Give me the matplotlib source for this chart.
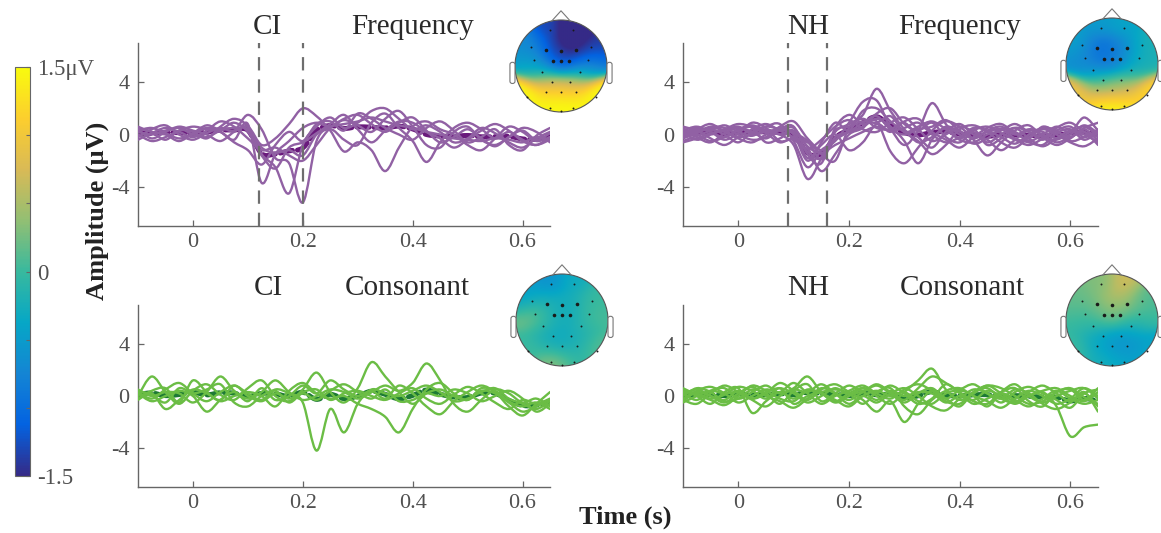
import numpy as np
import matplotlib
matplotlib.use('Agg')
import matplotlib.pyplot as plt
from matplotlib.colors import LinearSegmentedColormap, Normalize
from matplotlib.cm import ScalarMappable
from matplotlib.patches import Circle, FancyBboxPatch, PathPatch
from matplotlib.path import Path

plt.rcParams['font.family'] = ['Liberation Serif', 'DejaVu Serif']

# ---- data -------------------------------------------------------------
t = np.round(np.arange(-0.1, 0.651, 0.025), 3)   # 31 samples

ci_freq = [
    [0.3, 0.5, 0.1, -0.3, 0.0, 0.5, 0.2, -0.4, 0.8, -3.7, -1.5, -0.5, 0.5, 0.9, 0.6, 1.2, 1.5, 0.8, 0.2, 0.9, 1.3, 0.3, -0.6, -0.2, 0.4, -0.3, -0.9, -0.2, 0.3, -0.4, 0.1],
    [0.5, 0.2, -0.4, 0.3, 0.2, -0.3, 0.6, 1.2, 0.6, -1.5, -2.5, -4.5, -0.8, 0.6, 1.3, 0.5, 0.9, 1.8, 2.0, 1.2, 0.4, 0.7, 0.2, -0.6, -0.3, 0.5, 0.1, -0.6, -1.0, -0.3, 0.2],
    [-0.2, 0.4, 0.7, 0.0, -0.4, 0.1, 0.5, 0.3, 1.5, 0.4, -1.8, -2.2, -5.2, -0.5, 0.4, -0.4, -0.8, 0.9, 1.6, 0.5, -0.5, -2.1, -0.6, 0.5, 0.9, 0.4, -0.3, 0.2, -0.4, -0.8, -0.2],
    [0.4, -0.3, 0.2, 0.6, 0.3, 0.0, -0.5, 0.2, 0.6, -0.8, -0.3, 0.8, 2.0, 1.4, 0.3, -1.3, -0.6, -1.2, -2.8, -1.0, 0.6, 1.0, 0.4, 0.0, -0.8, -1.2, -0.3, 0.6, 0.2, -0.5, -0.2],
    [0.0, -0.5, -0.2, 0.3, 0.6, 0.4, 0.2, -0.6, -1.2, -2.3, -0.8, 0.2, -0.5, 0.8, 1.0, 0.3, 1.6, 1.2, 0.5, 0.0, -0.4, 0.5, 1.0, 0.3, -0.6, -0.2, 0.4, -0.8, -1.2, -0.1, 0.5],
    [-0.4, 0.1, 0.5, 0.2, -0.2, 0.3, 1.0, 0.6, -0.3, -1.2, -1.0, -1.6, -2.0, -0.8, 0.5, 1.1, 0.7, 0.2, 1.2, 1.8, 0.6, -0.8, -1.0, 0.2, 0.6, -0.4, -0.8, -0.2, 0.5, 0.2, -0.6],
    [0.6, 0.2, 0.0, -0.5, 0.1, 0.7, 0.4, 0.9, 0.2, -1.6, -2.6, -1.0, -0.6, 0.1, 0.8, 1.5, 0.4, -0.6, 0.3, 1.0, 0.9, 0.2, -0.3, -1.0, -0.4, 0.3, 0.8, 0.3, -0.5, -0.8, -0.4],
    [0.2, 0.0, 0.3, 0.5, 0.0, -0.2, 0.3, 0.5, 0.4, -1.0, -1.4, -1.2, -1.6, 0.0, 0.6, 0.8, 1.0, 1.3, 1.0, 0.7, 0.5, 0.2, 0.0, -0.3, -0.4, -0.5, -0.3, -0.4, -0.6, -0.2, -0.5],
]

nh_freq = [
    [0.3, 0.6, 0.2, -0.2, 0.4, 0.7, 0.3, 0.0, -0.8, -3.4, -1.8, 0.2, 0.8, 1.5, 3.5, 1.8, 0.4, -0.6, -0.2, 0.5, 0.0, -0.7, -0.3, 0.4, 0.2, -0.5, 0.0, 0.6, 0.2, 1.3, 0.3],
    [-0.3, 0.1, 0.5, 0.3, -0.2, 0.1, 0.6, 0.8, -0.5, -2.5, -1.2, -0.5, 0.9, 2.5, 2.6, 0.5, -0.8, 0.3, 2.4, 0.8, -0.3, 0.4, -0.8, -0.3, 0.5, 0.2, -0.4, 0.3, 0.6, -0.2, 0.4],
    [0.5, -0.2, -0.6, 0.1, 0.5, 0.2, -0.3, 0.4, 0.6, -1.5, -2.2, 0.5, 1.5, 0.8, 1.0, -1.3, -2.2, -1.0, 0.3, 1.0, 0.6, -0.4, -1.6, -0.6, 0.3, 0.7, -0.2, -0.8, -0.3, 0.4, -0.5],
    [0.0, 0.4, 0.8, 0.2, -0.3, -0.6, 0.0, 0.5, 0.0, -2.0, -0.6, 0.9, 0.3, 1.8, 2.0, 1.0, 0.2, -0.5, -1.5, -0.8, 0.4, 0.7, 0.2, -0.6, -1.0, -0.2, 0.4, 0.0, -0.6, -0.9, -0.3],
    [-0.5, -0.1, 0.3, 0.7, 0.2, -0.1, 0.4, 0.0, 0.3, -1.0, -2.8, -1.5, 0.0, 0.5, 1.6, 2.0, 0.8, 0.3, 0.9, -0.2, -0.6, 0.3, 0.6, 0.1, -0.4, -0.8, -0.3, 0.5, 0.9, 0.2, -0.2],
    [0.2, -0.4, 0.0, 0.4, 0.8, 0.5, -0.6, -0.3, 0.2, -1.8, -0.8, 0.0, -1.2, -0.6, 0.8, 0.2, 1.0, 1.2, 0.2, -0.4, -1.0, -0.2, 0.5, 0.8, 0.1, -0.3, 0.6, 0.2, -0.2, 0.5, 0.9],
    [0.6, 0.3, -0.3, -0.8, -0.2, 0.4, 0.8, 0.3, -0.2, -0.6, -1.5, -2.0, 0.5, 1.2, 0.5, 0.4, 0.9, -0.2, -1.0, 0.2, 0.8, 0.0, -0.4, -1.2, -0.4, 0.3, 0.0, -0.6, -0.2, 0.2, -0.8],
    [-0.2, 0.2, 0.6, 0.5, 0.0, -0.4, -0.2, 0.6, 1.0, -0.3, -1.2, -0.4, 0.2, 0.6, 1.2, 0.6, -0.5, -2.2, -0.4, 0.6, 0.2, -0.3, 0.2, 0.4, -0.3, -0.6, -0.8, 0.1, 0.4, -0.4, 0.2],
    [0.1, 0.5, 0.2, -0.4, 0.1, 0.9, 0.5, -0.5, -0.4, -1.3, -1.8, 0.3, 0.6, 1.0, 0.9, 1.4, 0.2, 0.6, 1.0, 0.4, -0.4, -0.6, 0.0, 0.3, 0.8, 0.2, -0.2, -0.4, 0.2, 0.6, -0.1],
    [-0.6, -0.3, 0.1, 0.3, 0.6, 0.0, 0.2, 0.3, 0.5, -0.9, -1.4, -0.8, -0.3, 0.2, 0.6, 0.3, 0.5, 0.9, 0.0, -0.6, -0.2, 0.5, 0.3, -0.2, -0.7, 0.0, 0.5, 0.3, -0.5, -0.2, 0.3],
    [0.4, 0.0, -0.5, -0.2, 0.3, 0.6, 0.1, -0.6, -0.3, -1.1, -0.4, 0.6, 1.1, 0.4, 0.2, 0.9, 1.3, 0.4, -0.5, 0.0, 0.6, 0.2, -0.6, 0.0, 0.5, -0.3, -0.9, -0.3, 0.3, 0.0, -0.6],
    [-0.1, 0.3, 0.4, 0.0, -0.6, 0.2, 0.6, 0.4, 0.1, -0.5, -1.9, -0.2, 0.2, 0.9, 1.4, 0.4, 0.0, 0.4, 0.6, 1.1, 0.3, -0.3, 0.3, 0.6, 0.0, 0.4, 0.2, -0.3, 0.0, 0.7, 0.1],
]

ci_cons = [
    [0.3, -0.2, 0.5, 1.0, 0.2, -0.4, 0.3, 0.8, 0.2, -0.3, 0.5, 0.2, -0.5, -4.2, -1.0, -2.8, -0.6, 0.5, 0.2, 0.0, 0.4, 0.8, 0.3, -0.4, -0.2, 0.3, 0.6, -0.2, -0.6, -1.0, -0.4],
    [0.0, 1.5, 0.3, -0.6, 0.4, 0.9, 0.1, -0.3, 0.6, 1.2, 0.0, -0.4, 0.5, 1.8, 0.3, -0.5, 0.6, 2.6, 1.5, 0.3, -0.6, 0.2, 0.5, 0.0, -0.3, 0.4, 0.2, -0.5, -1.2, -0.8, -0.3],
    [-0.3, 0.2, -1.0, -0.3, 0.5, 0.2, -0.4, 0.0, 0.3, 0.0, -0.8, 0.4, 1.0, 0.2, -0.2, 0.0, -0.6, -1.0, -1.6, -2.8, -1.0, 0.5, 1.0, 0.2, -0.3, 0.6, 0.4, -0.4, -0.8, -0.5, -1.0],
    [0.5, 0.0, 0.3, 0.2, -0.5, 0.3, 1.5, 0.4, -0.2, 0.3, 1.2, 0.3, -0.3, 0.0, 0.5, 0.3, -0.2, 0.3, 0.8, 0.4, 1.0, 2.5, 1.2, -0.6, -1.2, -0.3, 0.5, 0.2, -0.5, -0.2, -0.8],
    [-0.2, 0.4, 0.6, -0.5, 1.2, 0.3, -0.3, 0.8, 0.0, -0.4, 0.2, -0.2, 0.3, 0.5, -0.3, 0.2, 0.4, 0.0, -0.3, 0.2, 0.6, -0.2, -0.6, 0.1, 0.7, 0.2, -0.5, -1.0, -0.3, -0.6, -0.2],
    [0.2, -0.4, 0.0, 0.4, 0.0, -1.2, -0.3, 0.3, -0.4, 0.6, -0.3, 0.0, 0.8, 0.2, 1.2, 0.5, 0.0, 0.4, -0.2, 0.8, 0.2, -0.8, -1.4, -0.4, 0.3, 0.8, 0.3, -0.8, -1.5, -0.6, 0.3],
    [0.4, 0.1, -0.5, 0.6, 0.2, 0.5, 0.9, -0.5, -0.8, 0.0, 0.4, -0.5, 0.2, -0.3, 0.4, 0.9, 0.3, -0.2, 0.5, -0.4, -0.3, 0.2, 0.0, 0.5, 0.2, -0.4, 0.0, 0.4, -0.2, -1.2, -0.6],
]

nh_cons = [
    [0.2, -0.3, 0.4, 0.6, -0.2, 0.3, 0.8, 0.2, 0.6, 1.5, 0.3, -0.4, 0.2, 0.6, 0.0, -0.6, 0.3, 1.2, 2.1, 0.5, -0.3, 0.2, 0.8, 0.2, -0.4, 0.0, 0.3, -0.8, -3.1, -2.4, -2.2],
    [-0.4, 0.3, 0.0, -0.3, 0.4, -0.2, 0.2, 1.0, 0.4, -0.3, 0.5, 0.9, 0.3, -0.3, -1.2, -0.4, -2.0, -0.6, 0.4, -0.2, -0.8, 0.3, 0.6, -0.2, -0.5, 0.3, 0.8, 0.2, -0.4, 0.3, -1.2],
    [0.5, 0.0, -0.6, 0.3, 0.6, -1.3, -0.4, 0.3, -0.2, 0.5, 0.2, -0.5, 0.0, 0.6, 0.3, 0.8, 0.2, -0.6, -0.2, 0.9, 0.2, -0.6, -0.2, 0.3, 0.6, -0.4, -0.8, 0.3, 0.5, -0.3, 0.6],
    [0.0, 0.6, 0.3, -0.4, -0.2, 0.5, 0.2, -0.6, 0.4, 0.9, -0.4, 0.2, 0.8, 0.4, 0.9, 0.3, -0.3, 0.6, 1.5, 1.0, 0.3, -0.4, -0.6, 0.2, -0.3, -0.8, -0.2, 0.4, -0.2, -0.6, -0.3],
    [-0.3, -0.6, 0.2, 0.8, 0.3, -0.3, -0.8, 0.0, 0.5, 0.3, 0.9, 0.2, -0.6, 0.0, -0.5, 0.2, 0.6, 0.0, -0.8, -1.1, -0.2, 0.5, 0.2, -0.5, 0.3, 0.7, 0.2, -0.3, -0.9, 0.2, 0.5],
    [0.3, 0.2, -0.2, 0.1, 0.7, 0.4, -0.2, 0.6, -0.6, 0.0, 0.3, 0.5, 0.2, -0.6, 0.3, 0.6, -0.8, -1.4, -0.3, 0.4, 0.6, 0.0, -0.4, -0.9, -0.2, 0.4, 0.0, -0.6, -0.2, 0.6, 0.0],
    [-0.2, 0.4, 0.7, 0.2, -0.5, 0.0, 0.5, 0.3, 1.0, 0.2, -0.6, 0.0, 0.4, 0.8, 0.2, -0.2, 0.5, 0.9, 0.4, -0.4, -0.6, 0.3, 0.8, 0.6, 0.0, -0.6, -0.4, 0.3, 0.6, -0.1, -0.6],
    [0.6, 0.1, -0.3, -0.7, 0.0, 0.8, 0.4, -0.2, -0.4, 0.4, 0.2, -0.3, -0.8, 0.0, 0.4, 0.0, 0.3, -0.4, -0.6, 0.2, 0.5, 0.9, 0.2, -0.2, 0.5, 0.2, -0.6, -1.0, -0.5, 0.2, -0.8],
    [-0.5, 0.0, 0.4, 0.2, 0.3, -0.2, 0.3, 0.6, 0.2, -0.5, 0.0, 0.6, 0.1, 0.3, -0.3, 0.4, 0.0, 0.3, 0.2, -0.5, 0.0, -0.3, 0.4, 0.0, -0.6, 0.0, 0.4, 0.6, 0.0, -0.4, 0.3],
    [0.1, 0.5, 0.0, -0.5, 0.2, 0.7, 0.0, -0.4, -0.9, -0.2, 0.6, 0.2, -0.3, 0.3, 0.8, 0.2, -0.5, 0.2, 0.6, -0.2, 0.4, 0.0, -0.8, 0.3, 0.9, 0.0, -0.5, 0.0, 0.4, 0.6, -0.2],
]

# analysis windows (s)
ci_window = [0.12, 0.20]
nh_window = [0.09, 0.16]

# electrode montage (unit head circle, nose up)
elec_names = ['Fp1', 'Fp2', 'F7', 'F3', 'Fz', 'F4', 'F8', 'FC5', 'FC1', 'FCz', 'FC2', 'FC6',
              'C3', 'C4', 'CP1', 'CP2', 'P3', 'Pz', 'P4', 'P7', 'P8', 'O1', 'Oz', 'O2']
elec_x = [-0.25, 0.25, -0.65, -0.33, 0.0, 0.33, 0.65, -0.58, -0.18, 0.0, 0.18, 0.58,
          -0.41, 0.41, -0.19, 0.19, -0.33, 0.0, 0.33, -0.75, 0.75, -0.25, 0.0, 0.25]
elec_y = [0.78, 0.78, 0.42, 0.34, 0.32, 0.34, 0.42, 0.13, 0.11, 0.11, 0.11, 0.13,
          -0.12, -0.12, -0.35, -0.35, -0.57, -0.57, -0.57, -0.68, -0.68, -0.92, -0.97, -0.92]
big_elec = ['F3', 'Fz', 'F4', 'FC1', 'FCz', 'FC2']

topo_ci_freq = [-1.3, -1.8, -0.7, -1.2, -1.7, -1.8, -1.4, -0.4, -1.0, -1.2, -1.2, -0.8,
                -0.1, -0.2, 0.6, 0.5, 1.3, 1.3, 1.3, 1.5, 1.5, 1.5, 1.5, 1.5]
topo_nh_freq = [-0.5, -0.4, -0.4, -1.1, -0.9, -0.7, -0.2, -0.7, -1.0, -0.9, -0.7, -0.2,
                -0.6, -0.2, -0.2, 0.0, 0.6, 0.7, 0.9, 1.0, 1.2, 1.5, 1.5, 1.4]
topo_ci_cons = [-0.6, -0.3, -0.5, -0.2, -0.3, -0.2, 0.0, 0.4, -0.1, -0.3, -0.3, 0.1,
                -0.1, -0.1, -0.4, -0.3, -0.1, -0.3, -0.1, 0.0, 0.1, 0.4, 0.3, -0.1]
topo_nh_cons = [0.3, 0.7, 0.2, 0.3, 0.7, 0.5, 0.1, 0.0, 0.1, 0.2, 0.1, 0.0,
                -0.1, -0.3, -0.4, -0.5, -0.3, -0.6, -0.6, 0.0, -0.4, -0.2, -0.3, -0.4]

cbar_ticks = [-1.5, -1.0, -0.5, 0.0, 0.5, 1.0, 1.5]
cbar_labels = ['-1.5', '', '', '0', '', '', '1.5\u03bcV']
xticks = [0, 0.2, 0.4, 0.6]
xtick_labels = ['0', '0.2', '0.4', '0.6']
yticks = [-4, 0, 4]
ytick_labels = ['-4', '0', '4']

# ---- style ------------------------------------------------------------
parula = LinearSegmentedColormap.from_list('parula', [
    '#352a87', '#0363e1', '#1485d4', '#06a7c6', '#38b99e',
    '#92bf73', '#d9ba56', '#fcce2e', '#f9fb0e'])
purple, purple_dark = '#9161a4', '#6a1a7c'
green, green_dark = '#6bbd45', '#1d7a34'
W, H = 1161, 533


def fx(px):
    return px / W


def fy(py):
    return 1 - py / H


fig = plt.figure(figsize=(W / 100, H / 100), dpi=100)


def smooth_line(ax, x, y, **kw):
    # draw the sampled trace as a smooth curve through its points (Catmull-Rom as Bezier)
    p = np.column_stack([x, y])
    n = len(p)
    verts = [p[0]]
    codes = [Path.MOVETO]
    for i in range(n - 1):
        p0, p1, p2, p3 = p[max(i - 1, 0)], p[i], p[i + 1], p[min(i + 2, n - 1)]
        verts += [p1 + (p2 - p0) / 6, p2 - (p3 - p1) / 6, p2]
        codes += [Path.CURVE4] * 3
    ax.add_patch(PathPatch(Path(verts, codes), fill=False, capstyle='round',
                           joinstyle='round', **kw))


def draw_panel(rect, traces, color, dark, window):
    ax = fig.add_axes(rect)
    # grand mean first, the single traces run over it
    smooth_line(ax, t, np.mean(traces, axis=0), ec=dark, lw=3.6, ls=(0, (2.5, 1.0)), zorder=2)
    for tr in traces:
        smooth_line(ax, t, tr, ec=color, lw=1.7, zorder=3)
    for w in window:
        ax.axvline(w, color='#6e6e6e', lw=1.6, ls=(0, (6, 4)), zorder=4)
    ax.set_xlim(-0.1, 0.65)
    ax.set_ylim(-7, 7)
    ax.set_xticks(xticks)
    ax.set_xticklabels(xtick_labels)
    ax.set_yticks(yticks)
    ax.set_yticklabels(ytick_labels)
    for s in ['top', 'right']:
        ax.spines[s].set_visible(False)
    for s in ['left', 'bottom']:
        ax.spines[s].set_color('#666666')
        ax.spines[s].set_linewidth(1.0)
    ax.tick_params(direction='in', length=4, width=0.9, color='#666666',
                   labelcolor='#505050', labelsize=16)
    ax.tick_params(axis='x', pad=5)
    ax.tick_params(axis='y', pad=6)
    ax.patch.set_alpha(0)
    return ax


def draw_head(cx, cy, vals, r=46):
    half = 1.3 * r
    ax = fig.add_axes([fx(cx - half), fy(cy + half), 2 * half / W, 2 * half / H])
    ax.set_xlim(-1.3, 1.3)
    ax.set_ylim(-1.3, 1.3)
    ax.axis('off')
    ex, ey, v = np.array(elec_x), np.array(elec_y), np.array(vals)
    g = np.linspace(-1, 1, 161)
    X, Y = np.meshgrid(g, g)
    d2 = (X[..., None] - ex) ** 2 + (Y[..., None] - ey) ** 2
    wgt = np.exp(-d2 / (2 * 0.22 ** 2))
    Z = (wgt * v).sum(-1) / wgt.sum(-1)
    im = ax.imshow(Z, extent=(-1, 1, -1, 1), origin='lower', cmap=parula,
                   vmin=-1.5, vmax=1.5, interpolation='bilinear')
    im.set_clip_path(Circle((0, 0), 1, transform=ax.transData))
    ax.add_patch(Circle((0, 0), 1, fill=False, ec='#555555', lw=0.8))
    ax.plot([-0.2, 0, 0.2], [0.98, 1.2, 0.98], color='#777777', lw=0.8)
    for sx in (-1, 1):
        x0 = -1.11 if sx < 0 else 1.0
        ax.add_patch(FancyBboxPatch((x0, -0.38), 0.11, 0.46,
                                    boxstyle='round,pad=0,rounding_size=0.05',
                                    fc='white', ec='#777777', lw=0.8))
    for name, x, y in zip(elec_names, elec_x, elec_y):
        big = name in big_elec
        ax.plot(x, y, 'o', color='#1a1a1a', ms=2.6 if big else 1.4, mec='none')
    return ax


# ---- panels -----------------------------------------------------------
draw_panel([fx(138), fy(226), fx(412), (226 - 43) / H], ci_freq, purple, purple_dark, ci_window)
draw_panel([fx(683), fy(226), fx(415), (226 - 43) / H], nh_freq, purple, purple_dark, nh_window)
draw_panel([fx(138), fy(487), fx(412), (487 - 305) / H], ci_cons, green, green_dark, [])
draw_panel([fx(683), fy(487), fx(415), (487 - 305) / H], nh_cons, green, green_dark, [])

draw_head(561, 66, topo_ci_freq)
draw_head(1112, 64, topo_nh_freq)
draw_head(562, 320, topo_ci_cons)
draw_head(1112, 320, topo_nh_cons)

# titles
title_kw = dict(fontsize=21, color='#2a2a2a', ha='center', va='center')
fig.text(fx(267), fy(27), 'CI', **title_kw)
fig.text(fx(413), fy(27), 'Frequency', **title_kw)
fig.text(fx(808), fy(27), 'NH', **title_kw)
fig.text(fx(960), fy(27), 'Frequency', **title_kw)
fig.text(fx(268), fy(288), 'CI', **title_kw)
fig.text(fx(407), fy(288), 'Consonant', **title_kw)
fig.text(fx(808), fy(288), 'NH', **title_kw)
fig.text(fx(962), fy(288), 'Consonant', **title_kw)

fig.text(fx(97), fy(211), 'Amplitude (\u03bcV)', rotation=90, fontsize=19,
         fontweight='bold', ha='center', va='center', color='#222222')
fig.text(fx(625), fy(517), 'Time (s)', fontsize=19, fontweight='bold',
         ha='center', va='center', color='#222222')

# colorbar
cax = fig.add_axes([fx(15), fy(476), fx(15), (476 - 67) / H])
sm = ScalarMappable(norm=Normalize(-1.5, 1.5), cmap=parula)
cb = fig.colorbar(sm, cax=cax, ticks=cbar_ticks)
cb.ax.set_yticklabels(cbar_labels)
cb.ax.tick_params(direction='in', length=3, width=0.8, color='#666666',
                  labelcolor='#505050', labelsize=16.5, pad=5)
cb.outline.set_edgecolor('#666666')
cb.outline.set_linewidth(0.8)

fig.savefig('out.png', dpi=100)
